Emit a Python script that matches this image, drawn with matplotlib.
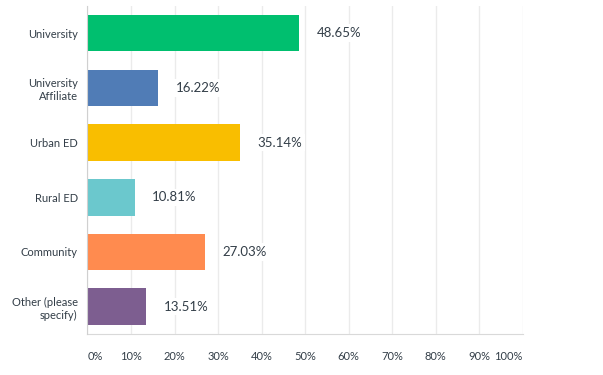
import matplotlib
matplotlib.use("Agg")
import matplotlib.pyplot as plt

categories = ["University", "University\nAffiliate", "Urban ED", "Rural ED",
              "Community", "Other (please\nspecify)"]
values = [48.65, 16.22, 35.14, 10.81, 27.03, 13.51]
colors = ["#00BF6F", "#507CB6", "#F9BE00", "#6BC8CD", "#FF8B4F", "#7D5E90"]
ticks = list(range(0, 101, 10))
tick_labels = [f"{t}%" for t in ticks]

plt.rcParams['font.family'] = ['Lato', 'DejaVu Sans']

fig = plt.figure(figsize=(6.03, 3.75), dpi=100)
ax = fig.add_axes([0.1451, 0.1093, 0.7217, 0.875])

y = list(range(len(categories)))
ax.barh(y, values, height=0.667, color=colors, zorder=2)
ax.set_ylim(len(categories) - 0.5, -0.5)
ax.set_xlim(0, 100)

for yi, v in zip(y, values):
    ax.text(v + 4, yi, f"{v:.2f}%", va="center", ha="left", fontsize=9.5,
            color="#333e48", zorder=3,
            bbox=dict(facecolor="white", edgecolor="none", pad=2))

ax.set_yticks(y)
ax.set_yticklabels(categories, fontsize=8, color="#333e48")
ax.set_xticks(ticks)
ax.set_xticklabels(tick_labels, fontsize=8, color="#333e48")
labs = ax.get_xticklabels()
labs[0].set_ha("left")
labs[-1].set_ha("right")
ax.tick_params(axis="both", length=0)
ax.tick_params(axis="x", pad=12)
ax.tick_params(axis="y", pad=7)

ax.grid(axis="x", color="#ebebeb", linewidth=1, zorder=0)
for s in ["top", "right"]:
    ax.spines[s].set_visible(False)
ax.spines["left"].set_color("#d0d0d0")
ax.spines["bottom"].set_color("#d9d9d9")
ax.spines["left"].set_zorder(3)

fig.savefig("out.png", dpi=100)
